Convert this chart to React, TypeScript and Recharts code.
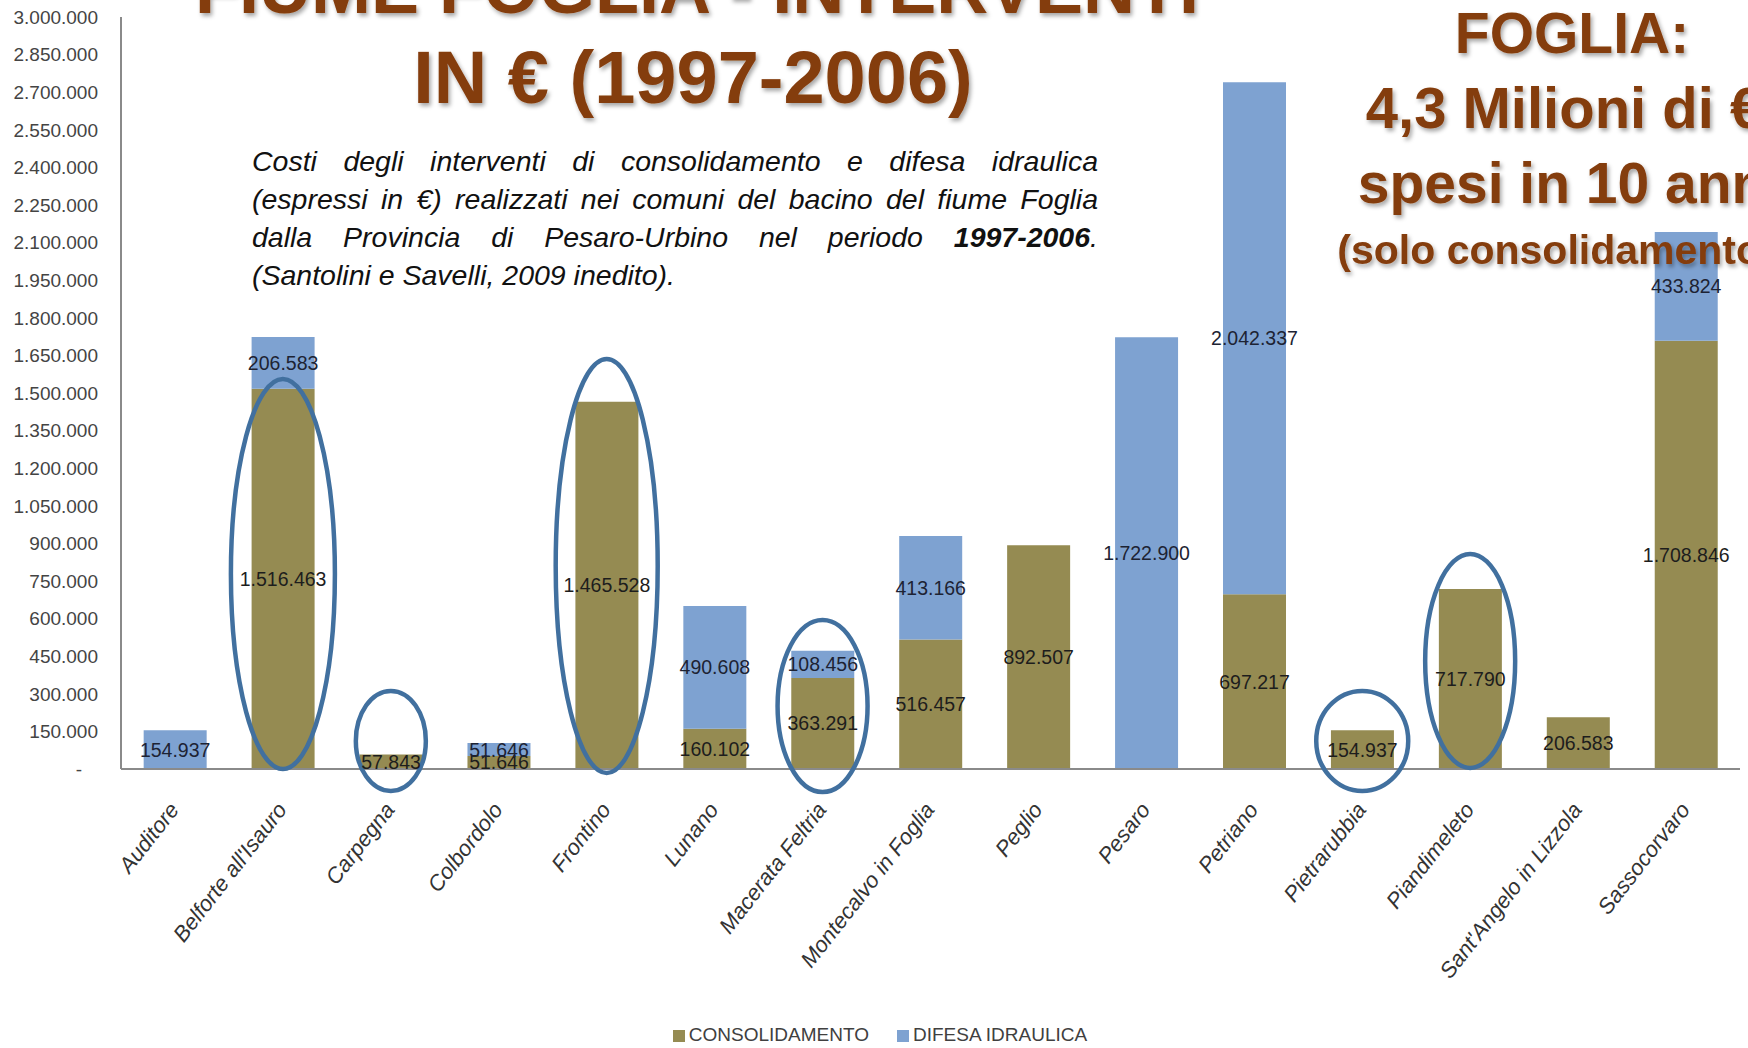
import { BarChart, Bar, XAxis, YAxis, Legend, LabelList, ReferenceDot } from 'recharts';

const categories = [
  'Auditore',
  "Belforte all'Isauro",
  'Carpegna',
  'Colbordolo',
  'Frontino',
  'Lunano',
  'Macerata Feltria',
  'Montecalvo in Foglia',
  'Peglio',
  'Pesaro',
  'Petriano',
  'Pietrarubbia',
  'Piandimeleto',
  "Sant'Angelo in Lizzola",
  'Sassocorvaro',
];
const consolidamento = [0, 1516463, 57843, 51646, 1465528, 160102, 363291, 516457, 892507, 0, 697217, 154937, 717790, 206583, 1708846];
const difesaIdraulica = [154937, 206583, 0, 51646, 0, 490608, 108456, 413166, 0, 1722900, 2042337, 0, 0, 0, 433824];
const yTicks = [
  0, 150000, 300000, 450000, 600000, 750000, 900000, 1050000, 1200000, 1350000, 1500000,
  1650000, 1800000, 1950000, 2100000, 2250000, 2400000, 2550000, 2700000, 2850000, 3000000,
];

// comuni cerchiati nella slide, e il valore al centro dell'ellisse
const highlighted = ["Belforte all'Isauro", 'Carpegna', 'Frontino', 'Macerata Feltria', 'Pietrarubbia', 'Piandimeleto'];
const highlightCenter = [778000, 112000, 810000, 251000, 112000, 431000];

// raggi delle ellissi in px
const ellipseSize: Record<string, [number, number]> = {
  "Belforte all'Isauro": [52, 195],
  Carpegna: [35, 50],
  Frontino: [51, 207],
  'Macerata Feltria': [45, 86],
  Pietrarubbia: [46, 50],
  Piandimeleto: [45, 107],
};

const data = categories.map((name, i) => ({
  name,
  consolidamento: consolidamento[i],
  difesa: difesaIdraulica[i],
}));

const SANS = "'Liberation Sans', Arial, sans-serif";
const BROWN = '#843C0C';
const OLIVE = '#958B52';
const BLUE = '#7EA2D1';

const fmt = (v: any) => {
  const n = Number(v);
  if (!n) return '-';
  return String(n).replace(/\B(?=(\d{3})+(?!\d))/g, '.');
};

const yFmt = (v: number) => (v === 0 ? '-\u00a0\u00a0\u00a0' : fmt(v));

function XTick({ x, y, payload }: any) {
  return (
    <g transform={`translate(${x + 5},${y + 33}) rotate(-52)`}>
      <text x={0} y={0} textAnchor="end" fill="#333" fontSize={22} fontStyle="italic" fontFamily={SANS}>
        {payload.value}
      </text>
    </g>
  );
}

function Titles() {
  return (
    <svg width={1748} height={1048} style={{ position: 'absolute', left: 0, top: 0, pointerEvents: 'none' }}>
      <defs>
        <filter id="shadow" x="-10%" y="-30%" width="120%" height="160%">
          <feDropShadow dx="2" dy="3" stdDeviation="2" floodColor="#000" floodOpacity="0.35" />
        </filter>
      </defs>
      <g fill={BROWN} fontFamily={SANS} fontWeight="bold" filter="url(#shadow)" textAnchor="middle">
        <text x={697} y={13} fontSize={72}>FIUME FOGLIA - INTERVENTI</text>
        <text x={693} y={103} fontSize={74}>IN € (1997-2006)</text>
        <text x={1572} y={53} fontSize={57}>FOGLIA:</text>
        <text x={1564} y={128} fontSize={58}>4,3 Milioni di €</text>
        <text x={1570} y={203} fontSize={57}>spesi in 10 anni</text>
        <text x={1556} y={264} fontSize={41}>(solo consolidamento)</text>
      </g>
    </svg>
  );
}

function Caption() {
  const common = {
    position: 'absolute' as const,
    left: 252,
    width: 846,
    fontFamily: SANS,
    fontStyle: 'italic',
    fontSize: 28.5,
    lineHeight: '38px',
    color: '#111',
    whiteSpace: 'nowrap' as const,
  };
  return (
    <>
      <div style={{ ...common, top: 142, textAlign: 'justify', textAlignLast: 'justify', whiteSpace: 'normal' }}>
        Costi degli interventi di consolidamento e difesa idraulica
        <br />
        (espressi in €) realizzati nei comuni del bacino del fiume Foglia
        <br />
        dalla Provincia di Pesaro-Urbino nel periodo <b>1997-2006</b>.
      </div>
      <div style={{ ...common, top: 256 }}>(Santolini e Savelli, 2009 inedito).</div>
    </>
  );
}

export default function App() {
  return (
    <div style={{ position: 'absolute', left: 0, top: 0, width: 1748, height: 1048, background: '#fff', overflow: 'hidden' }}>
      <BarChart
        width={1748}
        height={1048}
        data={data}
        margin={{ top: 17, right: 8, left: 0, bottom: 0 }}
        barCategoryGap="21%"
      >
        <XAxis
          dataKey="name"
          interval={0}
          height={239}
          tick={<XTick />}
          tickLine={false}
          axisLine={{ stroke: '#8a8a8a', strokeWidth: 2 }}
        />
        <YAxis
          width={121}
          domain={[0, 3000000]}
          ticks={yTicks}
          interval={0}
          tickFormatter={yFmt}
          tickLine={false}
          tickSize={10}
          tickMargin={13}
          axisLine={{ stroke: '#8a8a8a', strokeWidth: 2 }}
          tick={{ fill: '#444', fontSize: 19, fontFamily: SANS }}
        />
        <Legend
          verticalAlign="bottom"
          align="center"
          iconType="square"
          iconSize={12}
          wrapperStyle={{
            height: 40,
            boxSizing: 'border-box',
            paddingTop: 14,
            paddingLeft: 30,
            lineHeight: '26px',
            fontFamily: SANS,
            fontSize: 19,
          }}
          formatter={(value: string, _e: any, index: number) => (
            <span style={{ color: '#404040', marginRight: index === 0 ? 18 : 0 }}>{value}</span>
          )}
        />
        <Bar dataKey="consolidamento" name="CONSOLIDAMENTO" stackId="a" fill={OLIVE} isAnimationActive={false}>
          <LabelList dataKey="consolidamento" position="center" formatter={fmt} fill="#1d1d1d" fontSize={19.5} fontFamily={SANS} />
        </Bar>
        <Bar dataKey="difesa" name="DIFESA IDRAULICA" stackId="a" fill={BLUE} isAnimationActive={false}>
          <LabelList dataKey="difesa" position="center" formatter={fmt} fill="#1d2333" fontSize={19.5} fontFamily={SANS} />
        </Bar>
        {highlighted.map((cat, i) => (
          <ReferenceDot
            key={cat}
            x={cat}
            y={highlightCenter[i]}
            r={1}
            ifOverflow="visible"
            shape={(p: any) => (
              <ellipse
                cx={p.cx}
                cy={p.cy}
                rx={ellipseSize[cat][0]}
                ry={ellipseSize[cat][1]}
                fill="none"
                stroke="#41709F"
                strokeWidth={4.5}
              />
            )}
          />
        ))}
      </BarChart>
      <Caption />
      <Titles />
    </div>
  );
}
